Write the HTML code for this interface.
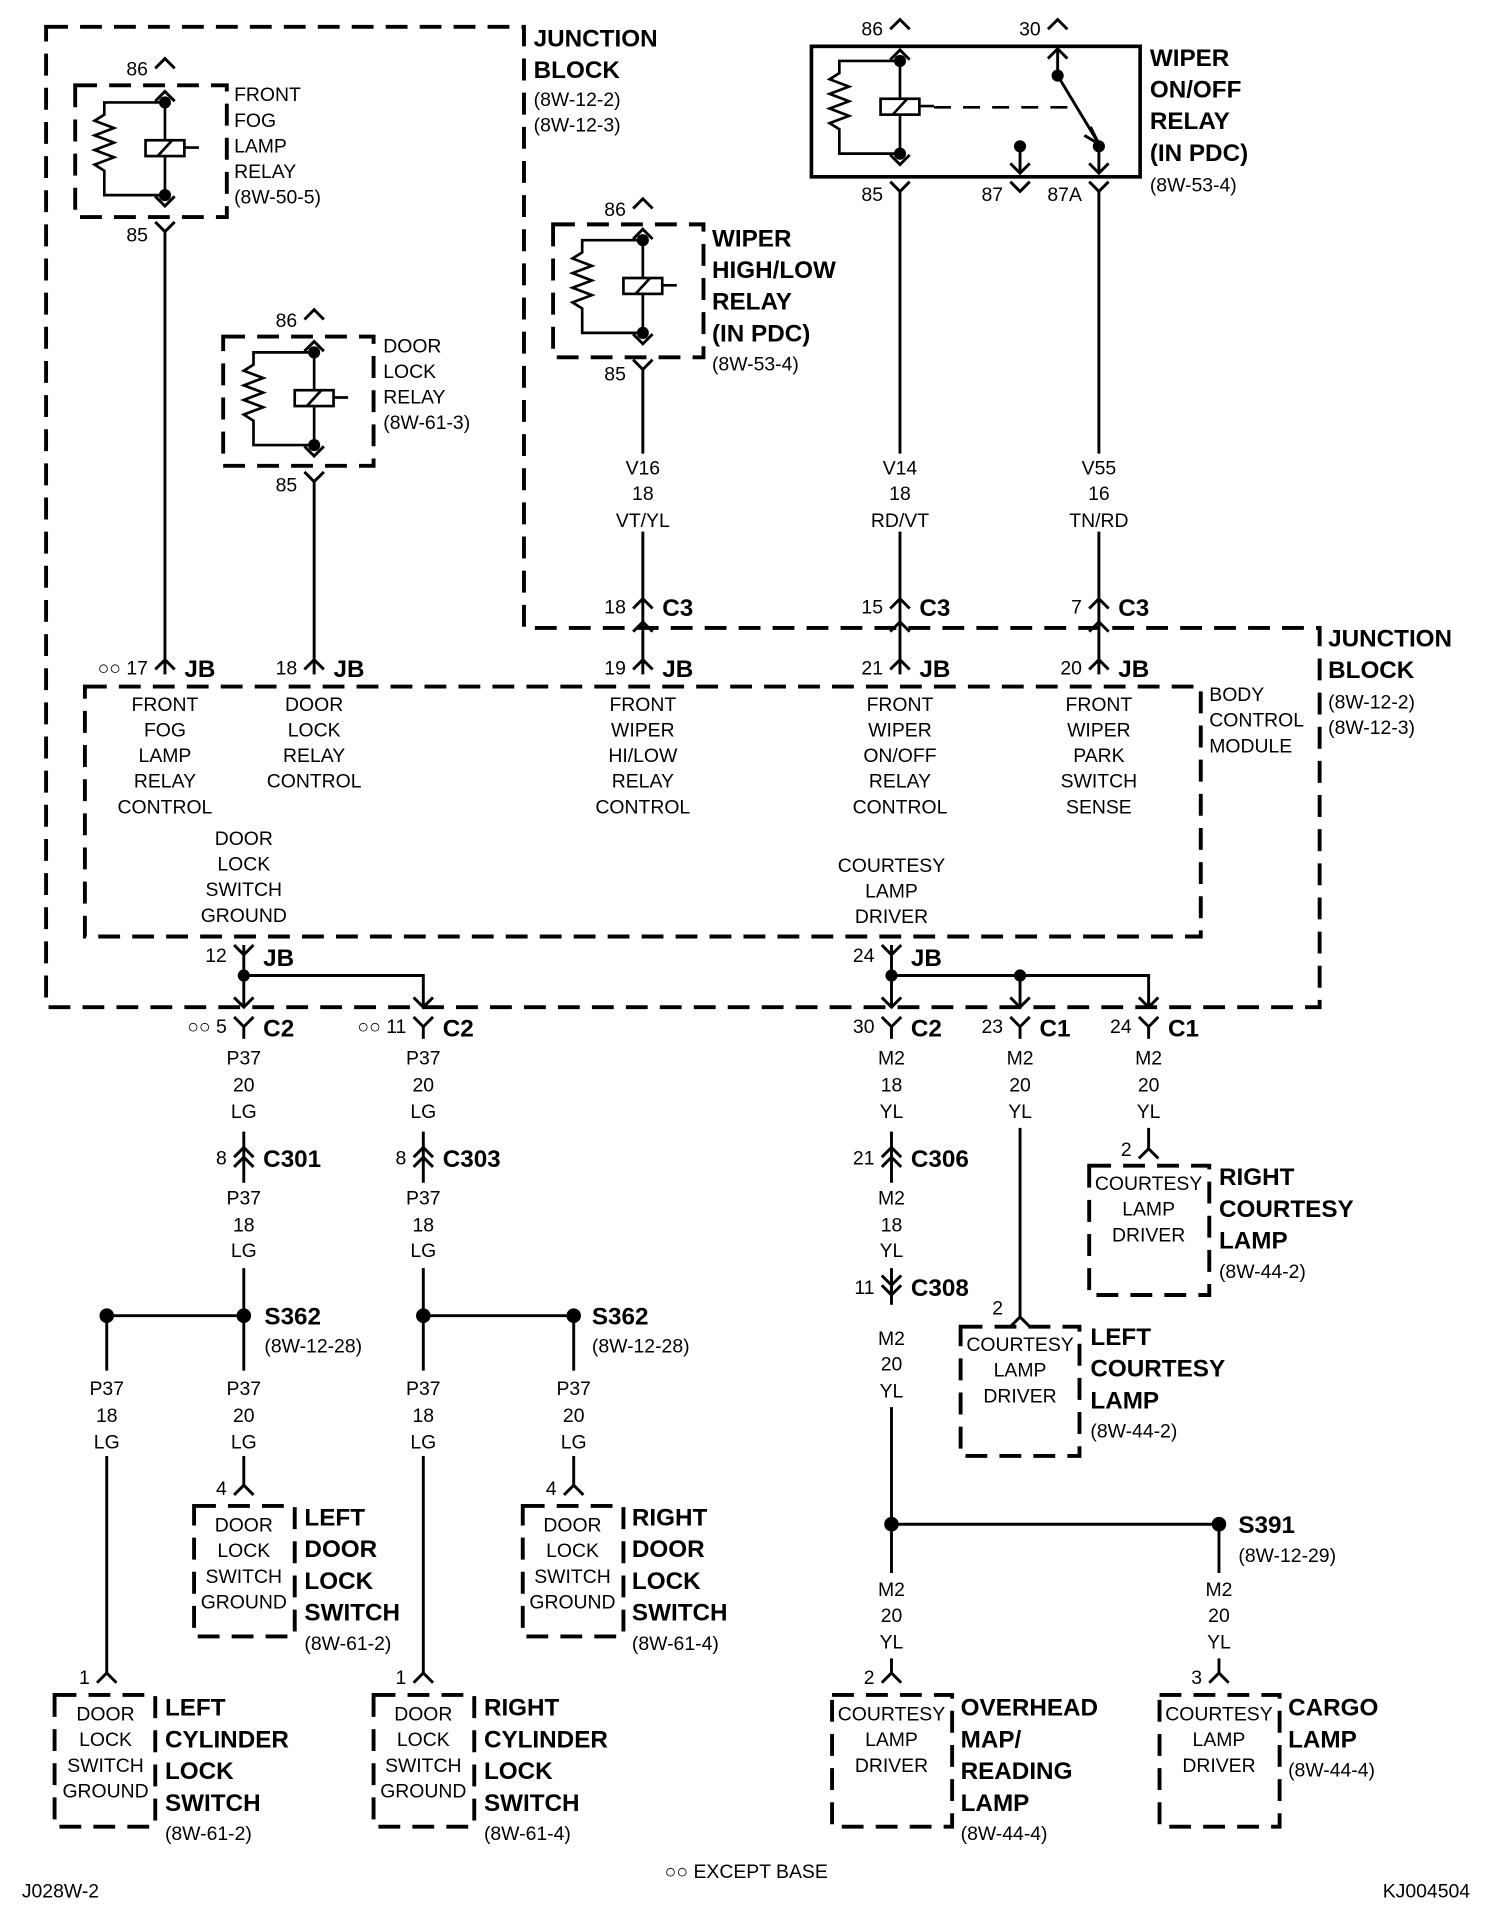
<!DOCTYPE html>
<html><head><meta charset="utf-8"><style>
html,body{margin:0;padding:0;background:#fff}
svg{display:block}
.t{font-family:"Liberation Sans Narrow","Liberation Sans",sans-serif;font-size:16px;fill:#000}
.b{font-family:"Liberation Sans Narrow","Liberation Sans",sans-serif;font-size:20px;font-weight:bold;fill:#000}
.m{text-anchor:middle}
.e{text-anchor:end}
.w{stroke:#000;stroke-width:2.4;fill:none}
.d{stroke:#000;stroke-width:3.2;fill:none;stroke-dasharray:18 10}
.s{stroke:#000;stroke-width:3;fill:none}
</style></head><body>
<svg width="1504" height="1912" viewBox="0 0 1240 1568" preserveAspectRatio="none" xmlns="http://www.w3.org/2000/svg">
<defs>
<path id="up" d="M-8,8 L0,0 L8,8" stroke="#000" stroke-width="2.4" fill="none"/>
<path id="dn" d="M-8,-8 L0,0 L8,-8" stroke="#000" stroke-width="2.4" fill="none"/>
<g id="relay">
<path d="M0,-38 V38 M0,-38 H-50 V-28 l-8,5 l16,6 l-16,6 l16,6 l-16,6 l16,6 l-16,6 l8,5 V38 H0" stroke="#000" stroke-width="2.2" fill="none"/>
<circle cx="0" cy="-38" r="5"/><circle cx="0" cy="38" r="5"/>
<rect x="-16" y="-7" width="32" height="13" fill="#fff" stroke="#000" stroke-width="2.2"/>
<path d="M-6,6 L6,-7 M16,-1 H28" stroke="#000" stroke-width="2.2"/>
<use href="#up" y="-47"/><use href="#dn" y="47"/>
</g>
</defs>

<!-- junction block outline -->
<path class="d" d="M38,22 H432 V515 H1088 V826 H38 Z"/>
<text class="b" x="440" y="38">JUNCTION</text><text class="b" x="440" y="64">BLOCK</text>
<text class="t" x="440" y="87">(8W-12-2)</text><text class="t" x="440" y="108">(8W-12-3)</text>
<text class="b" x="1095" y="530">JUNCTION</text><text class="b" x="1095" y="556">BLOCK</text>
<text class="t" x="1095" y="581">(8W-12-2)</text><text class="t" x="1095" y="602">(8W-12-3)</text>

<!-- fog relay -->
<rect class="d" x="62" y="70" width="125" height="108"/>
<use href="#relay" x="136" y="122"/>
<use href="#up" x="136" y="48"/>
<text class="t e" x="122" y="62">86</text>
<use href="#dn" x="136" y="190"/><text class="t e" x="122" y="198">85</text>
<path class="w" d="M136,190 V553"/>
<text class="t" x="193" y="83">FRONT</text><text class="t" x="193" y="104">FOG</text><text class="t" x="193" y="125">LAMP</text><text class="t" x="193" y="146">RELAY</text><text class="t" x="193" y="167">(8W-50-5)</text>

<!-- door lock relay -->
<rect class="d" x="184" y="276" width="124" height="106"/>
<use href="#relay" x="259" y="327"/>
<use href="#up" x="259" y="254"/><text class="t e" x="245" y="268">86</text>
<use href="#dn" x="259" y="395"/><text class="t e" x="245" y="403">85</text>
<path class="w" d="M259,395 V553"/>
<text class="t" x="316" y="289">DOOR</text><text class="t" x="316" y="310">LOCK</text><text class="t" x="316" y="331">RELAY</text><text class="t" x="316" y="352">(8W-61-3)</text>

<!-- wiper hi/low relay -->
<rect class="d" x="456" y="184" width="124" height="109"/>
<use href="#relay" x="530" y="235"/>
<use href="#up" x="530" y="163"/><text class="t e" x="516" y="177">86</text>
<use href="#dn" x="530" y="303"/><text class="t e" x="516" y="312">85</text>
<text class="b" x="587" y="202">WIPER</text><text class="b" x="587" y="228">HIGH/LOW</text><text class="b" x="587" y="254">RELAY</text><text class="b" x="587" y="280">(IN PDC)</text><text class="t" x="587" y="304">(8W-53-4)</text>

<!-- wiper on/off relay -->
<rect class="s" x="669" y="38" width="271" height="107"/>
<use href="#relay" x="742" y="88"/>
<use href="#up" x="742" y="16"/><text class="t e" x="728" y="29">86</text>
<use href="#dn" x="742" y="157"/><text class="t e" x="728" y="165">85</text>
<use href="#up" x="872" y="16"/><text class="t e" x="858" y="29">30</text>
<path class="w" d="M872,40 V62 L906,118"/><circle cx="872" cy="62" r="5"/>
<path d="M899,104 L906,118 L894,111" stroke="#000" stroke-width="2.4" fill="none"/>
<path d="M770,88 H884" stroke="#000" stroke-width="2.2" stroke-dasharray="14 10"/>
<use href="#up" x="872" y="40"/>
<circle cx="841" cy="120" r="5"/><path class="w" d="M841,120 V142"/><use href="#dn" x="841" y="142"/>
<use href="#dn" x="841" y="157"/><text class="t e" x="827" y="165">87</text>
<circle cx="906" cy="120" r="5"/><path class="w" d="M906,120 V142"/><use href="#dn" x="906" y="142"/>
<use href="#dn" x="906" y="157"/><text class="t e" x="892" y="165">87A</text>
<text class="b" x="948" y="54">WIPER</text><text class="b" x="948" y="80">ON/OFF</text><text class="b" x="948" y="106">RELAY</text><text class="b" x="948" y="132">(IN PDC)</text><text class="t" x="948" y="157">(8W-53-4)</text>

<!-- wires to C3 -->
<path class="w" d="M530,303 V372 M530,436 V553 M742,157 V372 M742,436 V553 M906,157 V372 M906,436 V553"/>
<text class="t m" x="530" y="389">V16</text><text class="t m" x="530" y="410">18</text><text class="t m" x="530" y="432">VT/YL</text>
<text class="t m" x="742" y="389">V14</text><text class="t m" x="742" y="410">18</text><text class="t m" x="742" y="432">RD/VT</text>
<text class="t m" x="906" y="389">V55</text><text class="t m" x="906" y="410">16</text><text class="t m" x="906" y="432">TN/RD</text>
<use href="#up" x="530" y="491"/><use href="#up" x="530" y="510"/><text class="t e" x="516" y="503">18</text><text class="b" x="546" y="505">C3</text>
<use href="#up" x="742" y="491"/><use href="#up" x="742" y="510"/><text class="t e" x="728" y="503">15</text><text class="b" x="758" y="505">C3</text>
<use href="#up" x="906" y="491"/><use href="#up" x="906" y="510"/><text class="t e" x="892" y="503">7</text><text class="b" x="922" y="505">C3</text>

<!-- JB connectors top -->
<use href="#up" x="136" y="541"/><text class="t e" x="122" y="553">○○ 17</text><text class="b" x="152" y="555">JB</text>
<use href="#up" x="259" y="541"/><text class="t e" x="245" y="553">18</text><text class="b" x="275" y="555">JB</text>
<use href="#up" x="530" y="541"/><text class="t e" x="516" y="553">19</text><text class="b" x="546" y="555">JB</text>
<use href="#up" x="742" y="541"/><text class="t e" x="728" y="553">21</text><text class="b" x="758" y="555">JB</text>
<use href="#up" x="906" y="541"/><text class="t e" x="892" y="553">20</text><text class="b" x="922" y="555">JB</text>

<!-- BCM -->
<rect class="d" x="70" y="563" width="920" height="205"/>
<g class="t m">
<text x="136" y="583">FRONT</text><text x="136" y="604">FOG</text><text x="136" y="625">LAMP</text><text x="136" y="646">RELAY</text><text x="136" y="667">CONTROL</text>
<text x="259" y="583">DOOR</text><text x="259" y="604">LOCK</text><text x="259" y="625">RELAY</text><text x="259" y="646">CONTROL</text>
<text x="530" y="583">FRONT</text><text x="530" y="604">WIPER</text><text x="530" y="625">HI/LOW</text><text x="530" y="646">RELAY</text><text x="530" y="667">CONTROL</text>
<text x="742" y="583">FRONT</text><text x="742" y="604">WIPER</text><text x="742" y="625">ON/OFF</text><text x="742" y="646">RELAY</text><text x="742" y="667">CONTROL</text>
<text x="906" y="583">FRONT</text><text x="906" y="604">WIPER</text><text x="906" y="625">PARK</text><text x="906" y="646">SWITCH</text><text x="906" y="667">SENSE</text>
<text x="201" y="693">DOOR</text><text x="201" y="714">LOCK</text><text x="201" y="735">SWITCH</text><text x="201" y="756">GROUND</text>
<text x="735" y="715">COURTESY</text><text x="735" y="736">LAMP</text><text x="735" y="757">DRIVER</text>
</g>
<text class="t" x="997" y="575">BODY</text><text class="t" x="997" y="596">CONTROL</text><text class="t" x="997" y="617">MODULE</text>

<!-- left bottom: JB 12 -->
<use href="#dn" x="201" y="783"/><text class="t e" x="187" y="789">12</text><text class="b" x="217" y="792">JB</text>
<path class="w" d="M201,775 V826 M201,800 H349 V826"/><circle cx="201" cy="800" r="5"/>
<use href="#dn" x="201" y="826"/><use href="#dn" x="349" y="826"/>
<use href="#dn" x="201" y="842"/><text class="t e" x="187" y="847">○○ 5</text><text class="b" x="217" y="850">C2</text>
<use href="#dn" x="349" y="842"/><text class="t e" x="335" y="847">○○ 11</text><text class="b" x="365" y="850">C2</text>
<path class="w" d="M201,842 V852 M349,842 V852 M201,928 V970 M349,928 V970"/>
<g class="t m">
<text x="201" y="873">P37</text><text x="201" y="895">20</text><text x="201" y="917">LG</text>
<text x="349" y="873">P37</text><text x="349" y="895">20</text><text x="349" y="917">LG</text>
<text x="201" y="988">P37</text><text x="201" y="1010">18</text><text x="201" y="1031">LG</text>
<text x="349" y="988">P37</text><text x="349" y="1010">18</text><text x="349" y="1031">LG</text>
</g>
<use href="#up" x="201" y="941"/><use href="#up" x="201" y="949"/><text class="t e" x="187" y="955">8</text><text class="b" x="217" y="957">C301</text>
<use href="#up" x="349" y="941"/><use href="#up" x="349" y="949"/><text class="t e" x="335" y="955">8</text><text class="b" x="365" y="957">C303</text>

<!-- splices -->
<path class="w" d="M201,1040 V1124 M88,1079 H201 M349,1040 V1124 M349,1079 H473 M88,1079 V1124 M473,1079 V1124"/>
<circle cx="88" cy="1079" r="6"/><circle cx="201" cy="1079" r="6"/><circle cx="349" cy="1079" r="6"/><circle cx="473" cy="1079" r="6"/>
<text class="b" x="218" y="1086">S362</text><text class="t" x="218" y="1109">(8W-12-28)</text>
<text class="b" x="488" y="1086">S362</text><text class="t" x="488" y="1109">(8W-12-28)</text>
<g class="t m">
<text x="88" y="1144">P37</text><text x="88" y="1166">18</text><text x="88" y="1188">LG</text>
<text x="201" y="1144">P37</text><text x="201" y="1166">20</text><text x="201" y="1188">LG</text>
<text x="349" y="1144">P37</text><text x="349" y="1166">18</text><text x="349" y="1188">LG</text>
<text x="473" y="1144">P37</text><text x="473" y="1166">20</text><text x="473" y="1188">LG</text>
</g>
<path class="w" d="M88,1194 V1372 M349,1194 V1372 M201,1194 V1218 M473,1194 V1218"/>
<use href="#up" x="201" y="1218"/><text class="t e" x="187" y="1226">4</text>
<use href="#up" x="473" y="1218"/><text class="t e" x="459" y="1226">4</text>
<use href="#up" x="88" y="1372"/><text class="t e" x="74" y="1381">1</text>
<use href="#up" x="349" y="1372"/><text class="t e" x="335" y="1381">1</text>

<!-- switch boxes -->
<rect class="d" x="160" y="1235" width="83" height="107"/>
<rect class="d" x="431" y="1235" width="83" height="107"/>
<rect class="d" x="45" y="1390" width="83" height="108"/>
<rect class="d" x="308" y="1390" width="83" height="108"/>
<g class="t m">
<text x="201" y="1256">DOOR</text><text x="201" y="1277">LOCK</text><text x="201" y="1298">SWITCH</text><text x="201" y="1319">GROUND</text>
<text x="472" y="1256">DOOR</text><text x="472" y="1277">LOCK</text><text x="472" y="1298">SWITCH</text><text x="472" y="1319">GROUND</text>
<text x="87" y="1411">DOOR</text><text x="87" y="1432">LOCK</text><text x="87" y="1453">SWITCH</text><text x="87" y="1474">GROUND</text>
<text x="349" y="1411">DOOR</text><text x="349" y="1432">LOCK</text><text x="349" y="1453">SWITCH</text><text x="349" y="1474">GROUND</text>
</g>
<text class="b" x="251" y="1251">LEFT</text><text class="b" x="251" y="1277">DOOR</text><text class="b" x="251" y="1303">LOCK</text><text class="b" x="251" y="1329">SWITCH</text><text class="t" x="251" y="1353">(8W-61-2)</text>
<text class="b" x="521" y="1251">RIGHT</text><text class="b" x="521" y="1277">DOOR</text><text class="b" x="521" y="1303">LOCK</text><text class="b" x="521" y="1329">SWITCH</text><text class="t" x="521" y="1353">(8W-61-4)</text>
<text class="b" x="136" y="1407">LEFT</text><text class="b" x="136" y="1433">CYLINDER</text><text class="b" x="136" y="1459">LOCK</text><text class="b" x="136" y="1485">SWITCH</text><text class="t" x="136" y="1509">(8W-61-2)</text>
<text class="b" x="399" y="1407">RIGHT</text><text class="b" x="399" y="1433">CYLINDER</text><text class="b" x="399" y="1459">LOCK</text><text class="b" x="399" y="1485">SWITCH</text><text class="t" x="399" y="1509">(8W-61-4)</text>

<!-- right bottom: JB 24 -->
<use href="#dn" x="735" y="783"/><text class="t e" x="721" y="789">24</text><text class="b" x="751" y="792">JB</text>
<path class="w" d="M735,775 V826 M735,800 H947 V826 M841,800 V826"/><circle cx="735" cy="800" r="5"/><circle cx="841" cy="800" r="5"/>
<use href="#dn" x="735" y="826"/><use href="#dn" x="841" y="826"/><use href="#dn" x="947" y="826"/>
<use href="#dn" x="735" y="842"/><text class="t e" x="721" y="847">30</text><text class="b" x="751" y="850">C2</text>
<use href="#dn" x="841" y="842"/><text class="t e" x="827" y="847">23</text><text class="b" x="857" y="850">C1</text>
<use href="#dn" x="947" y="842"/><text class="t e" x="933" y="847">24</text><text class="b" x="963" y="850">C1</text>
<path class="w" d="M735,842 V852 M841,842 V852 M947,842 V852"/>
<g class="t m">
<text x="735" y="873">M2</text><text x="735" y="895">18</text><text x="735" y="917">YL</text>
<text x="841" y="873">M2</text><text x="841" y="895">20</text><text x="841" y="917">YL</text>
<text x="947" y="873">M2</text><text x="947" y="895">20</text><text x="947" y="917">YL</text>
<text x="735" y="988">M2</text><text x="735" y="1010">18</text><text x="735" y="1031">YL</text>
<text x="735" y="1103">M2</text><text x="735" y="1124">20</text><text x="735" y="1146">YL</text>
<text x="735" y="1309">M2</text><text x="735" y="1330">20</text><text x="735" y="1352">YL</text>
<text x="1005" y="1309">M2</text><text x="1005" y="1330">20</text><text x="1005" y="1352">YL</text>
</g>
<path class="w" d="M735,928 V970 M735,1040 V1070 M735,1154 V1290 M735,1250 H1005 V1290 M841,925 V1080 M947,925 V942 M735,1360 V1372 M1005,1360 V1372"/>
<circle cx="735" cy="1250" r="6"/><circle cx="1005" cy="1250" r="6"/>
<text class="b" x="1021" y="1257">S391</text><text class="t" x="1021" y="1281">(8W-12-29)</text>
<use href="#up" x="735" y="941"/><use href="#up" x="735" y="949"/><text class="t e" x="721" y="955">21</text><text class="b" x="751" y="957">C306</text>
<use href="#dn" x="735" y="1054"/><use href="#dn" x="735" y="1062"/><text class="t e" x="721" y="1061">11</text><text class="b" x="751" y="1063">C308</text>
<use href="#up" x="947" y="942"/><text class="t e" x="933" y="948">2</text>
<use href="#up" x="841" y="1080"/><text class="t e" x="827" y="1078">2</text>
<use href="#up" x="735" y="1372"/><text class="t e" x="721" y="1381">2</text>
<use href="#up" x="1005" y="1372"/><text class="t e" x="991" y="1381">3</text>

<rect class="d" x="898" y="956" width="99" height="106"/>
<rect class="d" x="792" y="1088" width="98" height="106"/>
<rect class="d" x="686" y="1390" width="99" height="108"/>
<rect class="d" x="956" y="1390" width="99" height="108"/>
<g class="t m">
<text x="947" y="976">COURTESY</text><text x="947" y="997">LAMP</text><text x="947" y="1018">DRIVER</text>
<text x="841" y="1108">COURTESY</text><text x="841" y="1129">LAMP</text><text x="841" y="1150">DRIVER</text>
<text x="735" y="1411">COURTESY</text><text x="735" y="1432">LAMP</text><text x="735" y="1453">DRIVER</text>
<text x="1005" y="1411">COURTESY</text><text x="1005" y="1432">LAMP</text><text x="1005" y="1453">DRIVER</text>
</g>
<text class="b" x="1005" y="972">RIGHT</text><text class="b" x="1005" y="998">COURTESY</text><text class="b" x="1005" y="1024">LAMP</text><text class="t" x="1005" y="1048">(8W-44-2)</text>
<text class="b" x="899" y="1103">LEFT</text><text class="b" x="899" y="1129">COURTESY</text><text class="b" x="899" y="1155">LAMP</text><text class="t" x="899" y="1179">(8W-44-2)</text>
<text class="b" x="792" y="1407">OVERHEAD</text><text class="b" x="792" y="1433">MAP/</text><text class="b" x="792" y="1459">READING</text><text class="b" x="792" y="1485">LAMP</text><text class="t" x="792" y="1509">(8W-44-4)</text>
<text class="b" x="1062" y="1407">CARGO</text><text class="b" x="1062" y="1433">LAMP</text><text class="t" x="1062" y="1457">(8W-44-4)</text>

<!-- footer -->
<text class="t" x="18" y="1556">J028W-2</text>
<text class="t" x="548" y="1540">○○ EXCEPT BASE</text>
<text class="t e" x="1212" y="1556">KJ004504</text>
</svg>
</body></html>
